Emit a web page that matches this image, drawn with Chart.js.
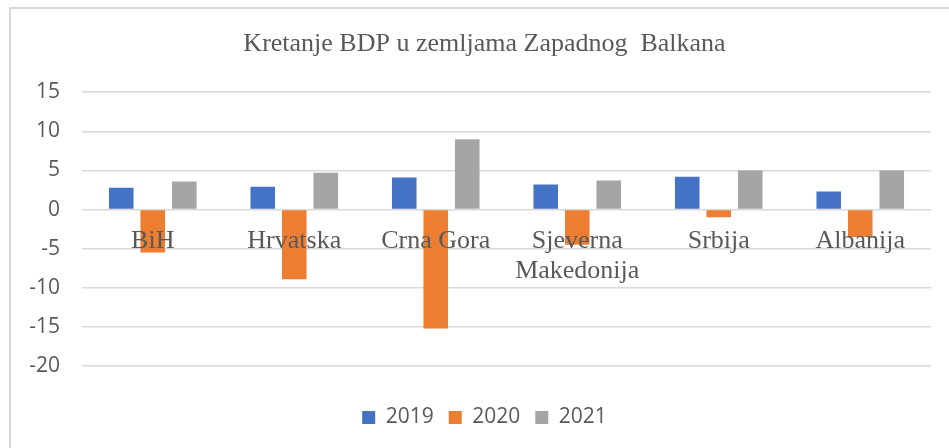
<!DOCTYPE html>
<html>
<head>
<meta charset="utf-8">
<script src="https://cdn.jsdelivr.net/npm/chart.js@4/dist/chart.umd.min.js"></script>
<style>
    body {
        margin: 0;
        background: #ffffff;
    }

    .wrap {
        position: relative;
        width: 949px;
        height: 448px;
        overflow: hidden;
    }

    .frame {
        position: absolute;
        left: 9px;
        top: 7px;
        width: 960px;
        height: 460px;
        border-left: 2px solid #d9d9d9;
        border-top: 2px solid #d9d9d9;
    }

    #bdpChart {
        position: absolute;
        left: 0;
        top: 0;
    }
</style>
</head>
<body>
<div class="wrap">
    <div class="frame"></div>
    <canvas id="bdpChart" width="949" height="448"></canvas>
</div>
<script>
const countries = ['BiH', 'Hrvatska', 'Crna Gora', ['Sjeverna', 'Makedonija'], 'Srbija', 'Albanija'];
const years = ['2019', '2020', '2021'];
const gdp2019 = [2.8, 2.9, 4.1, 3.2, 4.2, 2.3];
const gdp2020 = [-5.5, -8.9, -15.2, -4.5, -1.0, -3.5];
const gdp2021 = [3.6, 4.7, 9.0, 3.7, 5.0, 5.0];
const yTicks = [-20, -15, -10, -5, 0, 5, 10, 15];

const colors = ['#4472C4', '#ED7D31', '#A5A5A5'];
const textGrey = '#595959';

const ctx = document.getElementById('bdpChart').getContext('2d');
new Chart(ctx, {
    type: 'bar',
    data: {
        labels: countries,
        datasets: [gdp2019, gdp2020, gdp2021].map((vals, i) => ({
            label: years[i],
            data: vals,
            backgroundColor: colors[i],
            borderWidth: 0,
            barPercentage: 0.78,
            categoryPercentage: 0.668
        }))
    },
    options: {
        responsive: false,
        animation: false,
        layout: {
            padding: { left: 20, right: 0, top: 0, bottom: 10 }
        },
        plugins: {
            title: {
                display: true,
                text: 'Kretanje BDP u zemljama Zapadnog  Balkana',
                color: textGrey,
                font: { family: '"Liberation Serif", "Times New Roman", serif', size: 26, weight: 'normal' },
                padding: { top: 29, bottom: 32 }
            },
            legend: {
                position: 'bottom',
                // empty legend title = spacer between plot and legend items
                title: {
                    display: true,
                    text: '',
                    font: { size: 1, lineHeight: 1 },
                    padding: { top: 25, bottom: 0 }
                },
                labels: {
                    boxWidth: 13,
                    boxHeight: 13,
                    padding: 15,
                    color: textGrey,
                    font: { family: '"Open Sans", "Liberation Sans", sans-serif', size: 21 }
                }
            },
            tooltip: { enabled: false }
        },
        scales: {
            x: {
                position: { y: 0 },
                grid: { display: false, drawTicks: false },
                border: { display: false },
                ticks: {
                    z: 1,  // labels sit on top of the bars like in the reference
                    autoSkip: false,
                    maxRotation: 0,
                    padding: 17,
                    color: textGrey,
                    font: { family: '"Liberation Serif", "Times New Roman", serif', size: 26, lineHeight: 1.15 }
                }
            },
            y: {
                min: yTicks[0],
                max: yTicks[yTicks.length - 1],
                afterBuildTicks: (scale) => {
                    scale.ticks = yTicks.map(v => ({ value: v }));
                },
                afterFit: (scale) => {
                    scale.width = 62;  // plot starts at x=82
                },
                grid: { color: '#d9d9d9', lineWidth: 1.5, drawTicks: false },
                border: { display: false },
                ticks: {
                    padding: 22,
                    color: textGrey,
                    font: { family: '"Open Sans", "Liberation Sans", sans-serif', size: 21 }
                }
            },
            // empty right axis, only keeps an 18px margin after the plot
            yRight: {
                position: 'right',
                min: yTicks[0],
                max: yTicks[yTicks.length - 1],
                afterFit: (scale) => {
                    scale.width = 18;
                },
                grid: { display: false, drawTicks: false },
                border: { display: false },
                ticks: { display: false }
            }
        }
    }
});
</script>
</body>
</html>
